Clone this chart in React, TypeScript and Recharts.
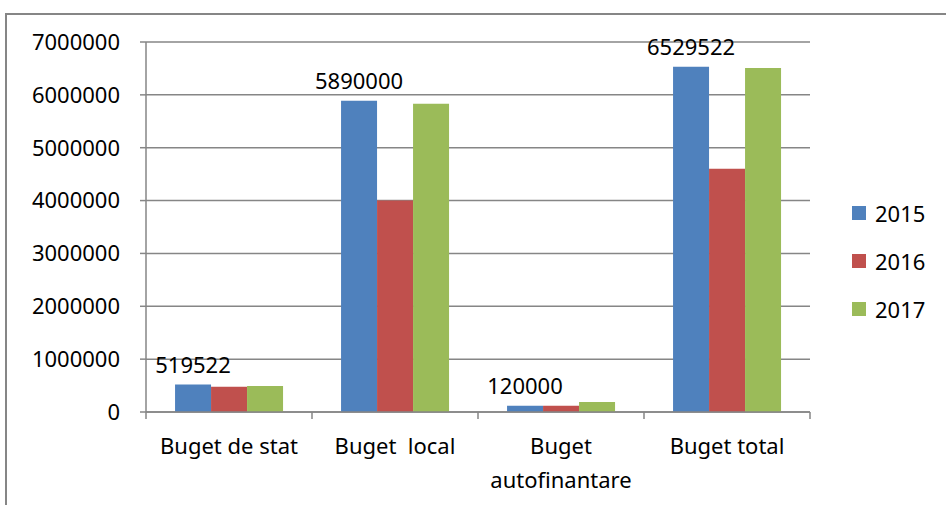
import React from 'react';
import { BarChart, Bar, XAxis, YAxis, CartesianGrid, Legend, LabelList } from 'recharts';

const categories = ['Buget de stat', 'Buget  local', 'Buget\nautofinantare', 'Buget total'];
const values2015 = [519522, 5890000, 120000, 6529522];
const values2016 = [480000, 4000000, 120000, 4600000];
const values2017 = [490000, 5830000, 190000, 6510000];
const yTicks = [0, 1000000, 2000000, 3000000, 4000000, 5000000, 6000000, 7000000];
const seriesNames = ['2015', '2016', '2017'];
const colors = ['#4F81BD', '#C0504D', '#9BBB59'];

const data = categories.map((c, i) => ({
  name: c,
  '2015': values2015[i],
  '2016': values2016[i],
  '2017': values2017[i],
}));

const FONT = '"Noto Sans", sans-serif';
const FS = 22;

const CategoryTick = (props: any) => {
  const { x, y, payload, index, visibleTicksCount } = props;
  const half = payload && payload.offset ? payload.offset : 83;
  const lines = String(payload.value).split('\n');
  const axisY = y - 8;
  return (
    <g>
      <line x1={x - half} y1={axisY} x2={x - half} y2={axisY + 7} stroke="#868686" strokeWidth={1.5} />
      {index === visibleTicksCount - 1 && (
        <line x1={x + half} y1={axisY} x2={x + half} y2={axisY + 7} stroke="#868686" strokeWidth={1.5} />
      )}
      {lines.map((l, i) => (
        <text
          key={i}
          x={x}
          y={axisY + 42 + i * 34}
          textAnchor="middle"
          fontFamily={FONT}
          fontSize={FS}
          fill="#000"
          style={{ whiteSpace: 'pre' }}
        >
          {l}
        </text>
      ))}
    </g>
  );
};

const LegendContent = () => (
  <div style={{ fontFamily: FONT, fontSize: FS, color: '#000' }}>
    {seriesNames.map((n, i) => (
      <div key={n} style={{ display: 'flex', alignItems: 'center', height: 48 }}>
        <span style={{ display: 'inline-block', width: 14, height: 14, background: colors[i], marginRight: 9 }} />
        <span>{n}</span>
      </div>
    ))}
  </div>
);

export default function App() {
  return (
    <div style={{ position: 'fixed', left: 0, top: 0, width: 946, height: 505, overflow: 'hidden', background: '#fff' }}>
      <div style={{ position: 'absolute', left: 0, top: 0 }}>
        <BarChart
          width={946}
          height={505}
          data={data}
          margin={{ top: 42, right: 136, left: 0, bottom: 0 }}
          barGap={0}
          barCategoryGap="17.5%"
        >
          <CartesianGrid vertical={false} stroke="#868686" strokeWidth={1.5} />
          <XAxis
            dataKey="name"
            height={93}
            axisLine={{ stroke: '#868686', strokeWidth: 1.5 }}
            tickLine={false}
            tick={<CategoryTick />}
            interval={0}
          />
          <YAxis
            width={146}
            domain={[0, 7000000]}
            ticks={yTicks}
            interval={0}
            axisLine={{ stroke: '#868686', strokeWidth: 1.5 }}
            tickLine={{ stroke: '#868686', strokeWidth: 1.5 }}
            tickSize={6}
            tickMargin={20}
            tick={{ fontFamily: FONT, fontSize: FS, fill: '#000' }}
          />
          <Legend
            layout="horizontal"
            verticalAlign="middle"
            align="center"
            content={<LegendContent />}
            wrapperStyle={{ left: 852, top: 189, width: 100, height: 150 }}
          />
          {seriesNames.map((n, i) => (
            <Bar key={n} dataKey={n} fill={colors[i]} isAnimationActive={false}>
              {i === 0 && (
                <LabelList
                  dataKey={n}
                  position="top"
                  offset={12}
                  fontFamily={FONT}
                  fontSize={FS}
                  fill="#000"
                />
              )}
            </Bar>
          ))}
        </BarChart>
      </div>
      <div
        style={{
          position: 'absolute',
          left: 5,
          top: 13,
          width: 1200,
          height: 800,
          boxSizing: 'border-box',
          borderLeft: '2px solid #868686',
          borderTop: '2px solid #868686',
          zIndex: 2,
          pointerEvents: 'none',
        }}
      />
    </div>
  );
}
